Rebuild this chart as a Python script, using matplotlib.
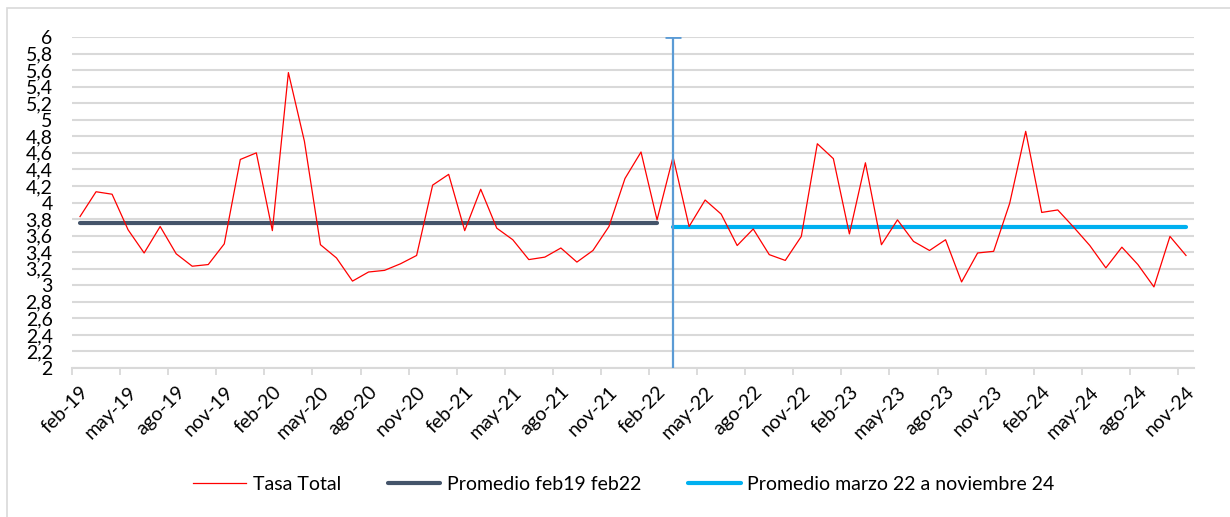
import matplotlib
matplotlib.use("Agg")
import matplotlib.pyplot as plt
from matplotlib.patches import Rectangle

plt.rcParams['font.family'] = ['Lato', 'DejaVu Sans']

# ---- data ----
month_names = ["ene", "feb", "mar", "abr", "may", "jun", "jul", "ago", "sep", "oct", "nov", "dic"]
month_labels = []
m, y = 1, 19  # start feb-19
for k in range(70):
    month_labels.append(f"{month_names[m]}-{y}")
    m += 1
    if m == 12:
        m = 0
        y += 1

tasa_total = [
    3.83, 4.13, 4.10, 3.67, 3.39, 3.71, 3.38, 3.23, 3.25, 3.50,
    4.52, 4.60, 3.66, 5.57, 4.74, 3.49, 3.33, 3.05, 3.16, 3.18,
    3.26, 3.36, 4.21, 4.34, 3.66, 4.16, 3.69, 3.55, 3.31, 3.34,
    3.45, 3.28, 3.42, 3.71, 4.29, 4.61, 3.79, 4.55, 3.71, 4.03,
    3.86, 3.48, 3.68, 3.37, 3.30, 3.59, 4.71, 4.53, 3.62, 4.48,
    3.49, 3.79, 3.53, 3.42, 3.55, 3.04, 3.39, 3.41, 3.99, 4.86,
    3.88, 3.91, 3.70, 3.48, 3.21, 3.46, 3.25, 2.98, 3.59, 3.36,
]
promedio_1 = 3.75   # feb19 - feb22
promedio_2 = 3.70   # mar22 - nov24
split_idx = 37      # mar-22

yticks = [2 + 0.2 * i for i in range(21)]
ytick_labels = [("%.1f" % v).rstrip('0').rstrip('.').replace('.', ',') for v in yticks]

legend_labels = ["Tasa Total", "Promedio feb19 feb22", "Promedio marzo 22 a noviembre 24"]

# ---- figure ----
W, H = 1230, 517
FS = 14
fig = plt.figure(figsize=(W / 100, H / 100), dpi=100)
fig.patch.set_facecolor("white")
fig.patches.append(Rectangle((7 / W, -0.1), 1.2, 1 - 8 / H + 0.1, transform=fig.transFigure,
                             fill=False, edgecolor="#d9d9d9", linewidth=1.2, zorder=0))

ax = fig.add_axes([72 / W, 1 - 368 / H, (1194 - 72) / W, (368 - 37) / H])
n = len(tasa_total)
x = list(range(n))

for yt in yticks:
    ax.axhline(yt, color="#d9d9d9", linewidth=1.5, zorder=1)

l1, = ax.plot(x, tasa_total, color="#ff0000", linewidth=0.9, zorder=4)
l2, = ax.plot(x[:split_idx], [promedio_1] * split_idx, color="#44546a", linewidth=3.0,
              solid_capstyle="round", zorder=3)
l3, = ax.plot(x[split_idx:], [promedio_2] * (n - split_idx), color="#00b0f0", linewidth=3.0,
              solid_capstyle="round", zorder=3)
# vertical marker line at mar-22
ax.plot([split_idx, split_idx], [2, 6], color="#5b9bd5", linewidth=1.6, zorder=5)
ax.plot([split_idx], [6], marker="_", markersize=12, markeredgewidth=2, color="#5b9bd5", zorder=5)

ax.set_xlim(-0.5, n - 0.5)
ax.set_ylim(2, 6)
ax.set_yticks(yticks)
ax.set_yticklabels(ytick_labels)
ax.tick_params(axis="y", length=0, pad=14, labelsize=FS, colors="#000000")

ax.set_xticks(x[::3])
ax.set_xticklabels(month_labels[::3], rotation=45, ha="right", va="top", rotation_mode="anchor")
ax.tick_params(axis="x", which="major", length=0, pad=11, labelsize=FS)
ax.set_xticks([i - 0.5 for i in range(0, n, 3)], minor=True)
ax.tick_params(axis="x", which="minor", length=5, width=1.3, color="#d9d9d9")

for s in ["top", "right", "left"]:
    ax.spines[s].set_visible(False)
ax.spines["bottom"].set_color("#d9d9d9")
ax.spines["bottom"].set_linewidth(1.5)
ax.set_facecolor("none")

fig.legend([l1, l2, l3], legend_labels, loc="center", ncol=3, frameon=False,
           bbox_to_anchor=(624 / W, 1 - 484 / H), fontsize=FS,
           handlelength=2.7, handletextpad=0.35, columnspacing=2.4)

fig.savefig("out.png", dpi=100, facecolor="white")
